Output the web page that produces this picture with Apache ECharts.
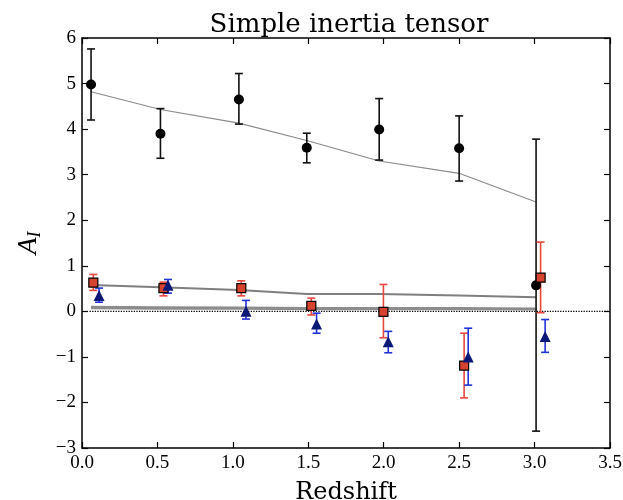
<!DOCTYPE html>
<html><head><meta charset="utf-8">
<script src="https://cdn.jsdelivr.net/npm/echarts@6/dist/echarts.min.js"></script>
<style>html,body{margin:0;padding:0;background:#fff}#c{width:623px;height:500px}</style>
</head><body><div id="c"></div>
<script>
// Black points (all)
const blackX  = [0.06, 0.52, 1.04, 1.49, 1.97, 2.50, 3.01];
const blackY  = [4.98, 3.90, 4.65, 3.59, 3.99, 3.58, 0.57];
const blackLo = [4.20, 3.36, 4.11, 3.26, 3.32, 2.86, -2.63];
const blackHi = [5.76, 4.45, 5.22, 3.91, 4.67, 4.29, 3.78];
// Red squares
const redX  = [0.075, 0.54, 1.056, 1.52, 1.998, 2.533, 3.04];
const redY  = [0.63, 0.51, 0.51, 0.12, -0.01, -1.19, 0.74];
const redLo = [0.46, 0.34, 0.34, -0.08, -0.58, -1.90, -0.03];
const redHi = [0.81, 0.64, 0.67, 0.29, 0.59, -0.48, 1.52];
// Blue triangles
const blueX  = [0.113, 0.57, 1.087, 1.555, 2.03, 2.56, 3.07];
const blueY  = [0.35, 0.57, 0.00, -0.28, -0.67, -1.00, -0.55];
const blueLo = [0.20, 0.40, -0.17, -0.48, -0.91, -1.62, -0.90];
const blueHi = [0.51, 0.70, 0.24, -0.04, -0.44, -0.37, -0.18];
// Model lines
const fitX     = [0.06, 0.52, 1.04, 1.49, 1.97, 2.50, 3.01];
const fitBlack = [4.82, 4.43, 4.13, 3.75, 3.30, 3.03, 2.40];
const fitRed   = [0.58, 0.53, 0.47, 0.38, 0.38, 0.35, 0.31];
const fitLowA  = [0.10, 0.09, 0.08, 0.07, 0.07, 0.07, 0.06];
const fitLowB  = [0.07, 0.06, 0.06, 0.05, 0.05, 0.05, 0.04];
const zeroX = [0.05, 3.5];
const zeroY = [0, 0];
const xTicks = [0, 0.5, 1.0, 1.5, 2.0, 2.5, 3.0, 3.5];
const yTicks = [-3, -2, -1, 0, 1, 2, 3, 4, 5, 6];

const FONT = 'Liberation Serif';
const FONT2 = 'DejaVu Serif';
const zip = (xs, ys) => xs.map((x, i) => [x, ys[i]]);
const errData = (xs, lo, hi) => xs.map((x, i) => [x, lo[i], hi[i]]);

function errSeries(name, xs, lo, hi, color) {
  return {
    name, type: 'custom', z: 3,
    data: errData(xs, lo, hi),
    renderItem: function (params, api) {
      const x = api.value(0);
      const a = api.coord([x, api.value(1)]);
      const b = api.coord([x, api.value(2)]);
      const w = 4;
      const st = { stroke: color, lineWidth: 1.6 };
      return { type: 'group', children: [
        { type: 'line', shape: { x1: a[0], y1: a[1], x2: b[0], y2: b[1] }, style: st },
        { type: 'line', shape: { x1: a[0]-w, y1: a[1], x2: a[0]+w, y2: a[1] }, style: st },
        { type: 'line', shape: { x1: b[0]-w, y1: b[1], x2: b[0]+w, y2: b[1] }, style: st }
      ]};
    }
  };
}
function lineSeries(xs, ys, color, width, type) {
  return { type: 'line', data: zip(xs, ys), symbol: 'none', silent: true, z: 2,
    lineStyle: { color, width, type: type || 'solid', opacity: 1 } };
}

const axisCommon = {
  type: 'value',
  axisLine: { show: true, onZero: false, lineStyle: { color: '#000', width: 1.5 } },
  axisTick: { show: true, inside: true, length: 6, lineStyle: { color: '#000', width: 1.2 } },
  splitLine: { show: false }
};

const chart = echarts.init(document.getElementById('c'));
chart.setOption({
  animation: false,
  backgroundColor: '#fff',
  title: {
    text: 'Simple inertia tensor', left: 344, top: 7, textAlign: 'center',
    textStyle: { fontFamily: FONT2, fontSize: 26, fontWeight: 'normal', color: '#000' }
  },
  grid: { left: 82, right: 13, top: 38, bottom: 52, outerBoundsMode: 'none', containLabel: false },
  xAxis: [
    Object.assign({}, axisCommon, {
      min: xTicks[0], max: xTicks[xTicks.length-1], interval: 0.5, position: 'bottom',
      name: 'Redshift', nameLocation: 'middle', nameGap: 33,
      nameTextStyle: { fontFamily: FONT2, fontSize: 24, color: '#000' },
      axisLabel: { fontFamily: FONT, fontSize: 19, color: '#000', margin: 6,
        formatter: v => v.toFixed(1) }
    }),
    Object.assign({}, axisCommon, {
      min: xTicks[0], max: xTicks[xTicks.length-1], interval: 0.5, position: 'top',
      axisLabel: { show: false }
    })
  ],
  yAxis: [
    Object.assign({}, axisCommon, {
      min: yTicks[0], max: yTicks[yTicks.length-1], interval: 1, position: 'left',
      name: '{a|A}{s|I}', nameLocation: 'middle', nameGap: 38, nameRotate: 90,
      nameTextStyle: { rich: {
        a: { fontFamily: FONT, fontStyle: 'italic', fontSize: 28, color: '#000' },
        s: { fontFamily: FONT, fontStyle: 'italic', fontSize: 18, color: '#000', verticalAlign: 'bottom', padding: [12, 0, 0, 0] }
      } },
      axisLabel: { fontFamily: FONT, fontSize: 19, color: '#000', margin: 6,
        formatter: v => (v < 0 ? '\u2212' + Math.abs(v) : String(v)) }
    }),
    Object.assign({}, axisCommon, {
      min: yTicks[0], max: yTicks[yTicks.length-1], interval: 1, position: 'right',
      axisLabel: { show: false }
    })
  ],
  series: [
    lineSeries(zeroX, zeroY, '#000', 1.3, 'dotted'),
    lineSeries(fitX, fitBlack, '#8a8a8a', 1.2),
    lineSeries(fitX, fitRed, '#7f7f7f', 2),
    lineSeries(fitX, fitLowA, '#8c8c8c', 2.2),
    lineSeries(fitX, fitLowB, '#8c8c8c', 2.2),
    errSeries('blackErr', blackX, blackLo, blackHi, '#111'),
    errSeries('redErr', redX, redLo, redHi, '#e5473e'),
    errSeries('blueErr', blueX, blueLo, blueHi, '#2233d6'),
    { type: 'scatter', z: 5, data: zip(blackX, blackY), symbol: 'circle', symbolSize: 10,
      itemStyle: { color: '#000', opacity: 1 } },
    { type: 'scatter', z: 5, data: zip(redX, redY), symbol: 'rect', symbolSize: 9,
      itemStyle: { color: '#d6432e', borderColor: '#000', borderWidth: 1.2, opacity: 1 } },
    { type: 'scatter', z: 5, data: zip(blueX, blueY), symbol: 'triangle', symbolSize: 11,
      itemStyle: { color: '#0b1976', opacity: 1 } }
  ]
});
</script></body></html>
